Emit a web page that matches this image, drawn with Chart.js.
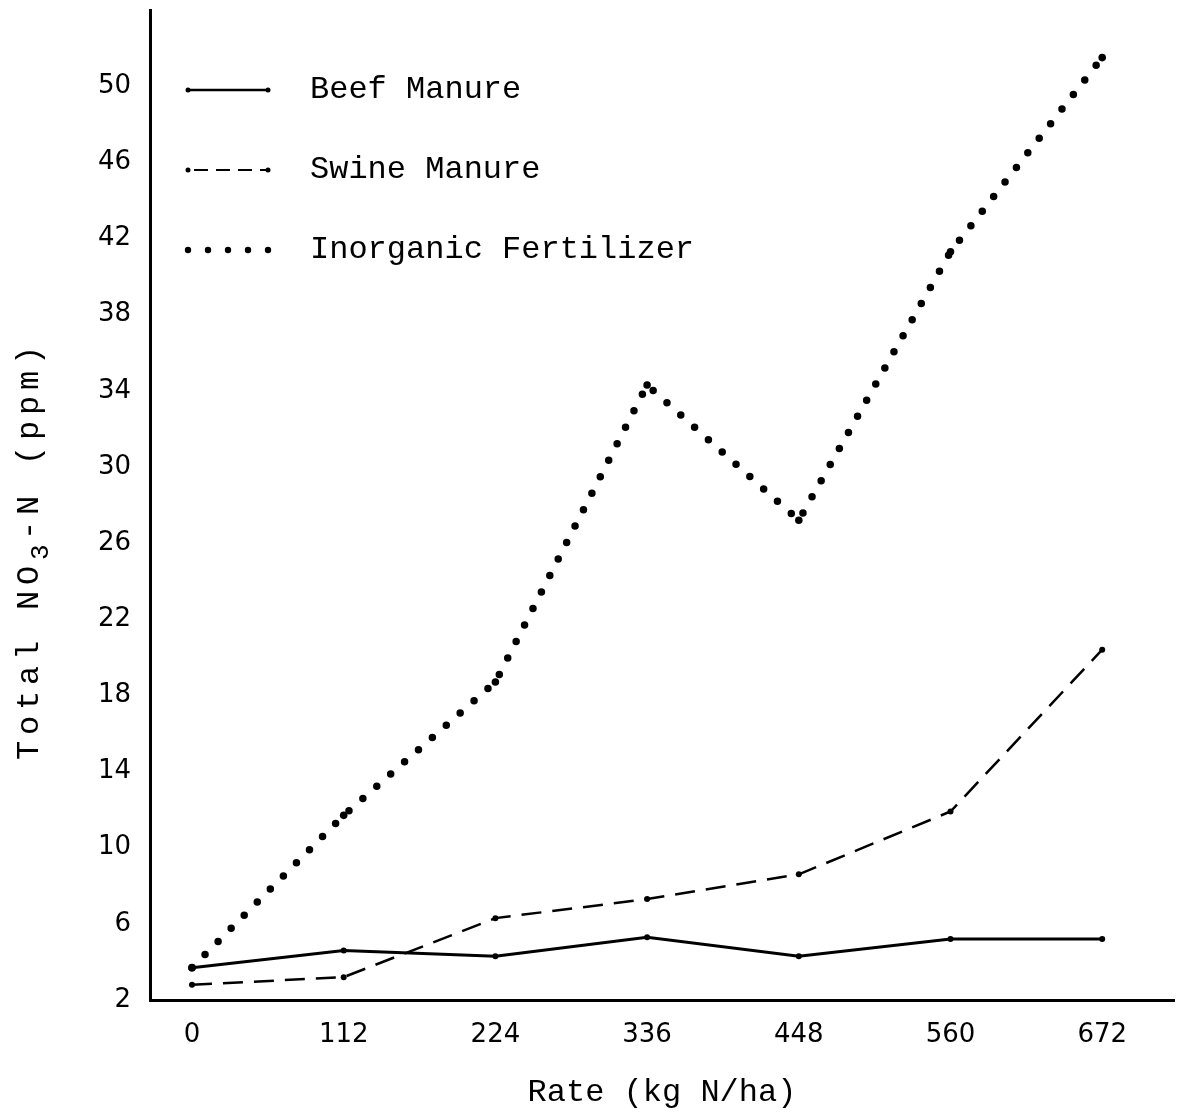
<!DOCTYPE html>
<html>
<head>
<meta charset="utf-8">
<script src="https://cdn.jsdelivr.net/npm/chart.js@4.4.1/dist/chart.umd.min.js"></script>
<style>
  html, body { margin: 0; padding: 0; background: #fff; }
  #wrap { width: 1178px; height: 1112px; }
</style>
</head>
<body>
<div id="wrap"><canvas id="c" width="1178" height="1112"></canvas></div>
<script>
const rates = [0, 112, 224, 336, 448, 560, 672];
const rateLabels = ['0', '112', '224', '336', '448', '560', '672'];
const beef = [3.7, 4.6, 4.3, 5.3, 4.3, 5.2, 5.2];
const swine = [2.8, 3.2, 6.3, 7.3, 8.6, 11.9, 20.4];
const inorganic = [3.7, 11.7, 18.7, 34.3, 27.2, 41.3, 51.5];
const yTicks = [2, 6, 10, 14, 18, 22, 26, 30, 34, 38, 42, 46, 50];
const seriesNames = ['Beef Manure', 'Swine Manure', 'Inorganic Fertilizer'];
const xTitle = 'Rate (kg N/ha)';
const yTitleParts = ['Total NO', '3', '-N (ppm)'];

const MONO = '"Liberation Mono", "DejaVu Sans Mono", monospace';
const TICKF = '"DejaVu Sans", "Liberation Sans", sans-serif';

function pts(arr) { return rates.map((r, i) => ({ x: r, y: arr[i] })); }

const legendPlugin = {
  id: 'customLegend',
  afterDraw(chart) {
    const ctx = chart.ctx;
    ctx.save();
    ctx.fillStyle = '#000';
    ctx.strokeStyle = '#000';
    const rows = [90, 170, 250];
    const x0 = 188, x1 = 268;
    ctx.lineWidth = 2.5; ctx.setLineDash([]);
    ctx.beginPath(); ctx.moveTo(x0, rows[0]); ctx.lineTo(x1, rows[0]); ctx.stroke();
    ctx.lineWidth = 2.2; ctx.setLineDash([14, 8]);
    ctx.beginPath(); ctx.moveTo(x0 + 6, rows[1]); ctx.lineTo(x1, rows[1]); ctx.stroke();
    ctx.setLineDash([]);
    [rows[0], rows[1]].forEach(y => {
      [x0, x1].forEach(x => { ctx.beginPath(); ctx.arc(x, y, 2.5, 0, Math.PI * 2); ctx.fill(); });
    });
    for (let k = 0; k < 5; k++) {
      ctx.beginPath(); ctx.arc(x0 + k * 20, rows[2], 3.2, 0, Math.PI * 2); ctx.fill();
    }
    ctx.font = '32px ' + MONO;
    ctx.textBaseline = 'middle';
    ctx.textAlign = 'left';
    seriesNames.forEach((n, i) => ctx.fillText(n, 310, rows[i]));

    // y title, rotated, typewriter pitch, with subscript
    ctx.translate(30, 760);
    ctx.rotate(-Math.PI / 2);
    const pitch = 25;
    let pos = 0;
    yTitleParts.forEach((part, pi) => {
      const sub = pi === 1;
      ctx.font = (sub ? '26px ' : '32px ') + MONO;
      for (const ch of part) {
        ctx.fillText(ch, pos, sub ? 11 : 0);
        pos += sub ? 20 : pitch;
      }
    });
    ctx.restore();
  }
};

new Chart(document.getElementById('c'), {
  type: 'line',
  data: {
    datasets: [
      { label: seriesNames[0], data: pts(beef), borderColor: '#000', backgroundColor: '#000',
        borderWidth: 3, pointRadius: 3, pointBorderWidth: 0, tension: 0 },
      { label: seriesNames[1], data: pts(swine), borderColor: '#000', backgroundColor: '#000',
        borderWidth: 2.5, borderDash: [20, 11], pointRadius: 3, pointBorderWidth: 0, tension: 0 },
      { label: seriesNames[2], data: pts(inorganic), borderColor: '#000', backgroundColor: '#000',
        borderWidth: 7.5, borderDash: [0, 18.5], borderCapStyle: 'round', pointRadius: 3.8,
        pointBorderWidth: 0, tension: 0 }
    ]
  },
  options: {
    responsive: false,
    animation: false,
    devicePixelRatio: 1,
    layout: { padding: { top: 10, right: 3, left: 0, bottom: 0 } },
    plugins: { legend: { display: false }, tooltip: { enabled: false } },
    scales: {
      x: {
        type: 'linear', min: -31, max: 725,
        afterBuildTicks(s) { s.ticks = rates.map(v => ({ value: v })); },
        afterFit(s) { s.height = 112; s.paddingLeft = 0; s.paddingRight = 0; },
        grid: { display: false },
        border: { display: true, color: '#000', width: 3 },
        ticks: {
          color: '#000', padding: 12, maxRotation: 0, autoSkip: false,
          font: { family: TICKF, size: 26 },
          callback: (v) => { const i = rates.indexOf(v); return i >= 0 ? rateLabels[i] : ''; }
        },
        title: { display: true, text: xTitle, color: '#000', font: { family: MONO, size: 32 }, padding: { top: 20, bottom: 0 } }
      },
      y: {
        type: 'linear', min: 2, max: 54,
        afterBuildTicks(s) { s.ticks = yTicks.map(v => ({ value: v })); },
        afterFit(s) { s.width = 150; s.paddingTop = 0; s.paddingBottom = 0; },
        grid: { display: false },
        border: { display: true, color: '#000', width: 3 },
        ticks: {
          color: '#000', padding: 11, autoSkip: false,
          font: { family: TICKF, size: 26 }
        }
      }
    }
  },
  plugins: [legendPlugin]
});
</script>
</body>
</html>
